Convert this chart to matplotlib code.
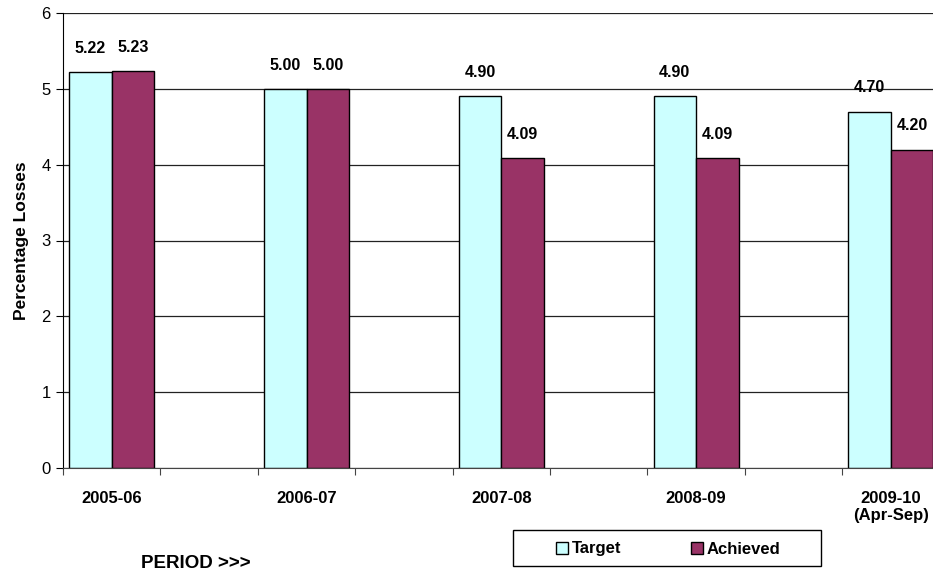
import numpy as np
import matplotlib
matplotlib.use('Agg')
import matplotlib.pyplot as plt
from matplotlib.patches import Rectangle

periods = ['2005-06', '2006-07', '2007-08', '2008-09', '2009-10\n(Apr-Sep)']
target = [5.22, 5.00, 4.90, 4.90, 4.70]
achieved = [5.23, 5.00, 4.09, 4.09, 4.20]

plt.rcParams['font.family'] = ['Liberation Sans', 'DejaVu Sans']

fig = plt.figure(figsize=(9.33, 5.73), dpi=100)
fig.patch.set_facecolor('white')
# plot area runs past the right edge of the picture, as in the original
ax = fig.add_axes([63 / 933, 105 / 573, 974 / 933, 455 / 573])

x = np.arange(len(periods)) * 2
w = 0.436

ax.set_axisbelow(True)
ax.yaxis.grid(True, color='#222222', linewidth=0.9)
b1 = ax.bar(x - w / 2, target, w, color='#CCFFFF', edgecolor='black', linewidth=1, label='Target')
b2 = ax.bar(x + w / 2, achieved, w, color='#993366', edgecolor='black', linewidth=1, label='Achieved')

for bars, vals in ((b1, target), (b2, achieved)):
    for bar, v in zip(bars, vals):
        ax.annotate(f'{v:.2f}', (bar.get_x() + bar.get_width() / 2, v),
                    xytext=(0, 17), textcoords='offset points',
                    ha='center', va='center', fontsize=11.5, fontweight='bold')

ax.set_xlim(-0.5, 9.5)
ax.set_ylim(0, 6)
ax.set_yticks(range(7))
ax.set_xticks(np.arange(-0.5, 10, 1.0))
ax.set_xticklabels([])
ax.tick_params(axis='y', direction='out', length=5, labelsize=12, pad=4)
ax.tick_params(axis='x', direction='out', length=5, color='#444444')
for xi, lab in zip(x, periods):
    ax.text(xi, -0.3, lab, ha='center', va='top', fontsize=12, fontweight='bold',
            linespacing=1.15, transform=ax.transData)

for s in ['top', 'right']:
    ax.spines[s].set_visible(False)
ax.spines['left'].set_color('black')
ax.spines['bottom'].set_color('#444444')

ax.set_ylabel('Percentage Losses', fontsize=12.5, fontweight='bold', labelpad=9)

fig.text(196 / 933, 1 - 564 / 573, 'PERIOD >>>', ha='center', va='center',
         fontsize=13.5, fontweight='bold')

# legend box drawn as its own rectangle, entries centred inside it
fig.patches.append(Rectangle((513 / 933, 7 / 573), 308 / 933, 36 / 573,
                             transform=fig.transFigure, facecolor='white',
                             edgecolor='black', linewidth=1))
leg = fig.legend(handles=[b1, b2], loc='center',
                 bbox_to_anchor=(668 / 933, 1 - 549 / 573),
                 ncol=2, frameon=False,
                 prop={'weight': 'bold', 'size': 12}, handlelength=0.75,
                 handleheight=0.75, handletextpad=0.2, columnspacing=4.2,
                 borderaxespad=0)

fig.savefig('out.png', dpi=100)
